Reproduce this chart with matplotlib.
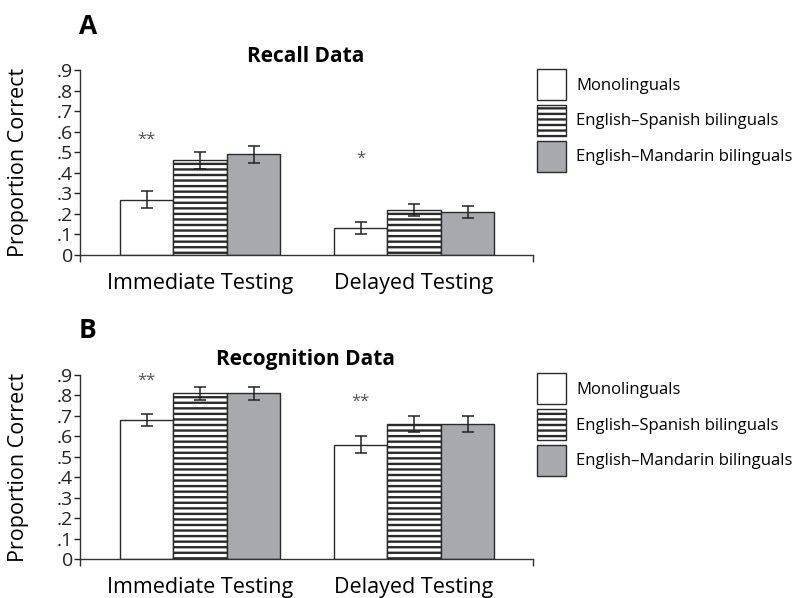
import numpy as np
import matplotlib
matplotlib.use("Agg")
import matplotlib.pyplot as plt

plt.rcParams['font.family'] = ['Open Sans', 'DejaVu Sans']
plt.rcParams['hatch.linewidth'] = 1.7

# data
groups = ['Immediate Testing', 'Delayed Testing']
series = ['Monolinguals', 'English\u2013Spanish bilinguals', 'English\u2013Mandarin bilinguals']

recall_mean = [[0.27, 0.13], [0.46, 0.22], [0.49, 0.21]]
recall_err = [[0.04, 0.03], [0.04, 0.03], [0.04, 0.03]]
recall_stars = ['**', '*']
recall_star_y = [0.56, 0.47]

recog_mean = [[0.68, 0.56], [0.81, 0.66], [0.81, 0.66]]
recog_err = [[0.03, 0.04], [0.03, 0.04], [0.03, 0.04]]
recog_stars = ['**', '**']
recog_star_y = [0.87, 0.77]

yticks = [0, .1, .2, .3, .4, .5, .6, .7, .8, .9]
ytick_labels = ['0', '.1', '.2', '.3', '.4', '.5', '.6', '.7', '.8', '.9']

facecolors = ['white', 'white', '#a7a9ac']
hatches = [None, '---', None]

W, H = 796, 598
fig = plt.figure(figsize=(W / 100, H / 100), dpi=100)


def panel(top_px, bottom_px, means, errs, stars, star_y, title, letter, letter_y, title_y, legend_top):
    ax = fig.add_axes([80 / W, 1 - bottom_px / H, (533 - 80) / W, (bottom_px - top_px) / H])
    x = np.arange(len(groups))
    bw = 0.25
    for i in range(len(series)):
        ax.bar(x + (i - 1) * bw, means[i], bw, yerr=errs[i], color=facecolors[i],
               edgecolor='#2a2a2a', linewidth=1.0, hatch=hatches[i], label=series[i],
               error_kw=dict(ecolor='#222222', elinewidth=1.1, capsize=4.5, capthick=1.1))
    for j in range(len(groups)):
        ax.text(x[j] - bw, star_y[j], stars[j], ha='center', va='center',
                fontsize=12, color='#555555')
    ax.set_xlim(-0.561, 1.556)
    ax.set_ylim(0, 0.9)
    ax.set_yticks(yticks)
    ax.set_yticklabels(ytick_labels, fontsize=14)
    ax.set_xticks(x)
    ax.set_xticklabels(groups, fontsize=15.5)
    ax.tick_params(axis='x', length=0, pad=13)
    ax.tick_params(axis='y', length=4, width=1, pad=1, colors='#222222')
    ax.set_xticks([-0.561, 1.556], minor=True)
    ax.tick_params(axis='x', which='minor', length=5, width=1, color='#333333')
    ax.spines['top'].set_visible(False)
    ax.spines['right'].set_visible(False)
    for s in ['left', 'bottom']:
        ax.spines[s].set_color('#333333')
        ax.spines[s].set_linewidth(1.0)
    ax.set_ylabel('Proportion Correct', fontsize=15.5)
    ax.yaxis.set_label_coords(-51 / 453, 0.5)
    fig.text(306 / W, 1 - title_y / H, title, ha='center', va='center',
             fontsize=15, fontweight='bold')
    fig.text(79 / W, 1 - letter_y / H, letter, ha='left', va='center',
             fontsize=19, fontweight='bold')
    ax.legend(loc='upper left', bbox_to_anchor=(537 / W, 1 - legend_top / H),
              bbox_transform=fig.transFigure, frameon=False, fontsize=12,
              handlelength=1.75, handleheight=2.5, handletextpad=0.6,
              labelspacing=0.28, borderpad=0, borderaxespad=0)
    return ax


panel(70, 255, recall_mean, recall_err, recall_stars, recall_star_y,
      'Recall Data', 'A', 27, 57, 69)
panel(375, 559.3, recog_mean, recog_err, recog_stars, recog_star_y,
      'Recognition Data', 'B', 331, 360, 373)

fig.savefig('out.png', dpi=100)
